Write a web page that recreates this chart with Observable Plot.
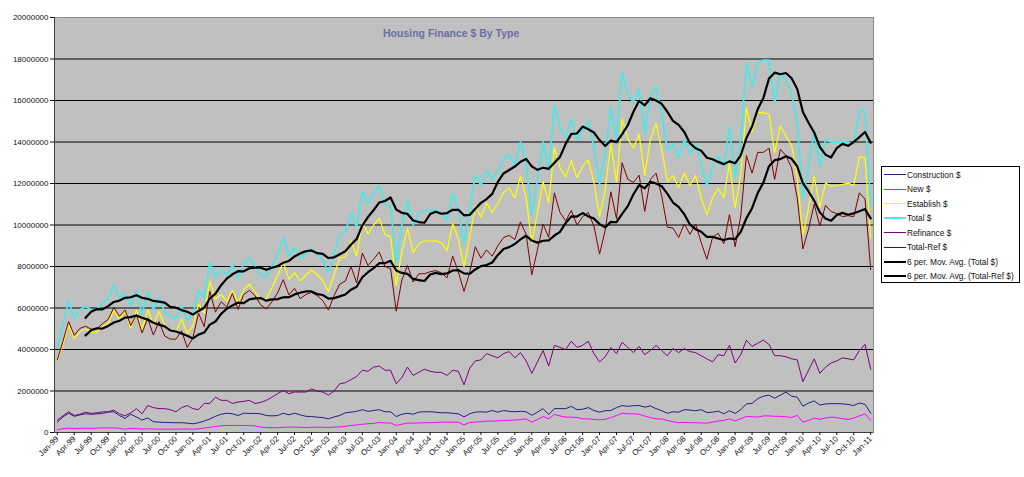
<!DOCTYPE html>
<html><head><meta charset="utf-8">
<script src="https://cdn.jsdelivr.net/npm/d3@7"></script>
<script src="https://cdn.jsdelivr.net/npm/@observablehq/plot@0.6"></script>
<style>
body{margin:0;background:#fff;font-family:"Liberation Sans",Arial,sans-serif;}
#wrap{position:relative;width:1024px;height:477px;overflow:hidden;}
#chart{position:absolute;left:0;top:0;}
#title{position:absolute;left:383px;top:27px;font-weight:bold;font-size:10.5px;color:#6e6ea2;white-space:nowrap;}
#legend{position:absolute;left:881px;top:166px;width:137px;height:115px;border:1px solid #000;background:#fff;font-size:8.3px;color:#111;}
.row{position:absolute;left:2px;height:14px;display:flex;align-items:center;white-space:nowrap;}
.sw{width:22px;height:0;margin-right:1px;}
</style></head>
<body><div id="wrap"><div id="chart"></div><div id="title">Housing Finance $ By Type</div><div id="legend"></div></div>
<script>
// ---- data (values in millions of $), monthly Jan-99 .. Jan-11 ----
const months = ["Jan","Feb","Mar","Apr","May","Jun","Jul","Aug","Sep","Oct","Nov","Dec"];
const years = ["99","00","01","02","03","04","05","06","07","08","09","10","11"];
const yTicks = [0,2,4,6,8,10,12,14,16,18,20];

const construction = [0.5,0.75,0.93,0.78,0.85,0.9,0.88,0.9,0.92,0.98,1.0,0.82, 0.68,0.88,0.75,0.6,0.7,0.52,0.5,0.48,0.48,0.47,0.47,0.45, 0.42,0.47,0.55,0.65,0.78,0.88,0.93,0.9,0.82,0.93,0.92,0.92, 0.9,0.82,0.8,0.82,0.93,0.85,0.93,0.85,0.78,0.77,0.74,0.72, 0.66,0.75,0.82,0.95,0.98,1.02,1.1,1.02,1.06,1.1,1.0,1.0, 0.77,0.88,0.93,0.88,0.98,1.0,1.0,0.98,0.95,0.95,0.93,0.9, 0.75,0.9,0.98,1.0,0.98,1.06,0.98,1.06,1.02,1.0,1.02,1.0, 0.83,0.98,1.15,0.87,1.15,1.15,1.15,1.26,1.1,1.12,1.2,1.06, 0.98,1.05,1.06,1.2,1.3,1.26,1.29,1.3,1.22,1.28,1.15,1.05, 0.93,1.0,0.98,1.1,1.08,1.05,1.1,0.96,0.98,1.03,0.9,1.05, 0.92,1.1,1.38,1.4,1.63,1.75,1.8,1.65,1.8,1.95,1.75,1.7, 1.27,1.42,1.52,1.32,1.38,1.39,1.39,1.38,1.35,1.3,1.42,1.36, 0.93];

const newDw = [0.13,0.18,0.21,0.19,0.2,0.21,0.2,0.21,0.22,0.22,0.22,0.2, 0.16,0.2,0.19,0.16,0.18,0.17,0.16,0.16,0.16,0.16,0.16,0.17, 0.16,0.18,0.21,0.25,0.29,0.32,0.34,0.34,0.34,0.34,0.33,0.32, 0.26,0.24,0.23,0.23,0.25,0.26,0.26,0.25,0.24,0.25,0.26,0.25, 0.24,0.26,0.27,0.3,0.34,0.36,0.4,0.42,0.44,0.48,0.46,0.46, 0.34,0.4,0.45,0.45,0.46,0.47,0.47,0.48,0.5,0.5,0.5,0.49, 0.37,0.48,0.5,0.52,0.55,0.55,0.56,0.58,0.59,0.6,0.62,0.66, 0.5,0.62,0.77,0.66,0.87,0.8,0.74,0.74,0.72,0.66,0.66,0.63, 0.61,0.64,0.72,0.82,0.93,0.9,0.9,0.88,0.79,0.72,0.66,0.65, 0.58,0.52,0.47,0.49,0.47,0.47,0.46,0.45,0.5,0.55,0.58,0.66, 0.56,0.66,0.78,0.76,0.74,0.8,0.8,0.78,0.78,0.76,0.72,0.82, 0.5,0.58,0.69,0.63,0.7,0.74,0.72,0.66,0.63,0.69,0.8,0.9, 0.58];

const establish = [3.47,4.27,5.21,4.53,4.85,4.99,4.82,4.84,5.11,5.25,5.88,5.48, 5.86,5.02,5.91,4.94,5.92,5.21,5.84,5.16,4.96,4.87,5.47,4.78, 5.12,6.2,5.74,7.3,6.43,6.65,6.33,6.86,6.24,6.88,7.15,6.76, 6.44,6.44,6.97,7.55,8.22,7.39,7.71,7.3,7.58,7.83,7.6,7.33, 6.8,7.59,8.41,8.45,9.23,8.52,10.15,9.56,10.0,10.32,9.54,9.44, 7.09,8.72,9.82,8.67,9.11,9.23,9.23,9.24,9.15,8.75,10.07,9.31, 7.98,9.42,10.92,10.38,11.07,10.59,11.06,11.56,11.79,11.3,12.36,11.34, 9.12,10.6,12.08,11.07,13.73,12.75,12.31,13.1,12.28,12.82,13.14,12.06, 10.41,11.71,13.92,12.08,15.12,14.14,13.71,14.37,12.39,14.15,14.89,13.65, 12.09,12.38,11.8,12.51,11.9,12.38,11.29,10.49,11.32,11.77,11.32,12.99, 10.82,12.44,15.64,14.49,15.43,15.4,15.35,13.47,14.77,14.29,13.83,12.28, 9.53,10.8,12.34,10.85,12.02,11.87,11.89,11.96,12.02,11.91,13.28,13.24, 9.39];

const total = [4.1,5.2,6.35,5.5,5.9,6.1,5.9,5.95,6.25,6.45,7.1,6.5, 6.7,6.1,6.85,5.7,6.8,5.9,6.5,5.8,5.6,5.5,6.1,5.4, 5.7,6.85,6.5,8.2,7.5,7.85,7.6,8.1,7.4,8.15,8.4,8.0, 7.6,7.5,8.0,8.6,9.4,8.5,8.9,8.4,8.6,8.85,8.6,8.3, 7.7,8.6,9.5,9.7,10.55,9.9,11.65,11.0,11.5,11.9,11.0,10.9, 8.2,10.0,11.2,10.0,10.55,10.7,10.7,10.7,10.6,10.2,11.5,10.7, 9.1,10.8,12.4,11.9,12.6,12.2,12.6,13.2,13.4,12.9,14.0,13.0, 10.45,12.2,14.0,12.6,15.75,14.7,14.2,15.1,14.1,14.6,15.0,13.75, 12.0,13.4,15.7,14.1,17.35,16.3,15.9,16.55,14.4,16.15,16.7,15.35, 13.6,13.9,13.25,14.1,13.45,13.9,12.85,11.9,12.8,13.35,12.8,14.7, 12.3,14.2,17.8,16.65,17.8,17.95,17.95,15.9,17.35,17.0,16.3,14.8, 11.3,12.8,14.55,12.8,14.1,14.0,14.0,14.0,14.0,13.9,15.5,15.5, 10.9];

const refinance = [0.6,0.8,1.0,0.82,0.88,0.98,0.92,0.95,1.0,1.0,1.08,0.9, 0.8,0.95,1.15,0.9,1.3,1.2,1.15,1.15,1.1,1.0,1.2,1.3, 1.15,1.1,1.4,1.4,1.7,1.55,1.55,1.4,1.47,1.5,1.55,1.4, 1.45,1.55,1.7,1.87,2.03,1.87,1.95,1.95,1.95,2.1,2.0,1.95, 1.8,2.0,2.35,2.4,2.55,2.7,3.0,2.95,3.15,3.2,3.0,3.0, 2.35,2.65,3.15,2.75,2.9,3.05,2.95,2.9,2.9,2.75,3.0,2.95, 2.3,3.1,3.45,3.5,3.8,3.7,3.6,3.8,3.9,3.6,3.85,3.45, 2.85,3.4,3.95,3.2,4.2,4.1,4.0,4.4,4.1,4.2,4.4,3.8, 3.4,3.65,4.1,3.8,4.35,4.1,3.85,4.15,3.75,3.95,4.2,3.95, 3.7,4.05,3.85,4.05,3.9,3.85,3.7,3.55,3.4,3.75,3.7,4.2, 3.35,3.75,4.45,4.15,4.3,4.45,4.25,3.7,3.7,3.65,3.55,3.5, 2.45,3.0,3.55,2.85,3.15,3.35,3.45,3.6,3.55,3.5,3.95,4.25, 3.05];

const totalRef = [3.5,4.4,5.35,4.68,5.02,5.12,4.98,5.0,5.25,5.45,6.02,5.6, 5.9,5.15,5.7,4.8,5.5,4.7,5.35,4.65,4.5,4.5,4.9,4.1, 4.55,5.75,5.1,6.8,5.8,6.3,6.05,6.7,5.93,6.65,6.85,6.6, 6.15,5.95,6.3,6.73,7.37,6.63,6.95,6.45,6.65,6.75,6.6,6.35, 5.9,6.6,7.15,7.3,8.0,7.2,8.65,8.05,8.35,8.7,8.0,7.9, 5.85,7.35,8.05,7.25,7.65,7.65,7.75,7.8,7.7,7.45,8.5,7.75, 6.8,7.7,8.95,8.4,8.8,8.5,9.0,9.4,9.5,9.3,10.15,9.55, 7.6,8.8,10.05,9.4,11.55,10.6,10.2,10.7,10.0,10.4,10.6,9.95, 8.6,9.75,11.6,10.3,13.0,12.2,12.05,12.4,10.65,12.2,12.5,11.4, 9.9,9.85,9.4,10.05,9.55,10.05,9.15,8.35,9.4,9.6,9.1,10.5, 8.95,10.45,13.35,12.5,13.5,13.5,13.7,12.2,13.65,13.35,12.75,11.3, 8.85,9.8,11.0,9.95,10.95,10.65,10.55,10.4,10.45,10.4,11.55,11.25, 7.85];

const seriesNames = ["Construction $","New $","Establish $","Total $","Refinance $","Total-Ref $","6 per. Mov. Avg. (Total $)","6 per. Mov. Avg. (Total-Ref $)"];

// ---- build ----
const labels = years.flatMap(y => months.map(m => m + "-" + y)).slice(0, total.length);
const xTicks = labels.map((d, i) => i).filter(i => i % 3 === 0);

const styles = [
  {arr: construction, stroke: "#1f1f86", w: 1},
  {arr: newDw, stroke: "#ff00ff", w: 1},
  {arr: establish, stroke: "#ffff00", w: 1.2},
  {arr: total, stroke: "#4fe6e6", w: 1.8},
  {arr: refinance, stroke: "#800080", w: 1},
  {arr: totalRef, stroke: "#800000", w: 1}
];

const lineMarks = styles.map(s => Plot.line(s.arr, {x: (d, i) => i, y: d => d, stroke: s.stroke, strokeWidth: s.w, strokeLinejoin: "round"}));
const maMarks = [total, totalRef].map(arr => Plot.line(arr, Plot.windowY({k: 6, anchor: "end", strict: true, reduce: "mean"}, {x: (d, i) => i, y: d => d, stroke: "#000", strokeWidth: 2.2})));

const chart = Plot.plot({
  width: 1024, height: 477,
  marginLeft: 54, marginRight: 151, marginTop: 17, marginBottom: 45,
  style: {fontFamily: "'Liberation Sans', Arial, sans-serif", fontSize: "8px", background: "transparent", color: "#111", overflow: "visible"},
  x: {domain: [-0.5, total.length - 0.5]},
  y: {domain: [0, 20]},
  marks: [
    Plot.frame({fill: "#c0c0c0", stroke: "#8a8a8a"}),
    Plot.gridY(yTicks.filter(d => d > 0 && d < 20), {stroke: "#000", strokeOpacity: 1}),
    Plot.ruleY([0], {stroke: "#404040"}),
    Plot.ruleX([-0.5], {stroke: "#404040"}),
    Plot.axisY(yTicks, {tickFormat: d => String(d * 1000000), tickSize: 4, tickPadding: 2, fontSize: 8, label: null}),
    Plot.axisX(xTicks, {tickFormat: i => labels[i], tickRotate: -45, tickSize: 3, tickPadding: 2, fontSize: 8, label: null}),
    ...lineMarks,
    ...maMarks
  ]
});
document.getElementById("chart").appendChild(chart);

// ---- legend ----
const legColors = [...styles.map(s => [s.stroke, s.w > 1.5 ? 2 : 1]), ["#000", 2], ["#000", 2]];
const leg = document.getElementById("legend");
seriesNames.forEach((name, k) => {
  const row = document.createElement("div");
  row.className = "row";
  row.style.top = (0.5 + 14.5 * k) + "px";
  const sw = document.createElement("span");
  sw.className = "sw";
  sw.style.borderTop = legColors[k][1] + "px solid " + legColors[k][0];
  row.appendChild(sw);
  row.appendChild(document.createTextNode(name));
  leg.appendChild(row);
});
</script>
</body></html>
